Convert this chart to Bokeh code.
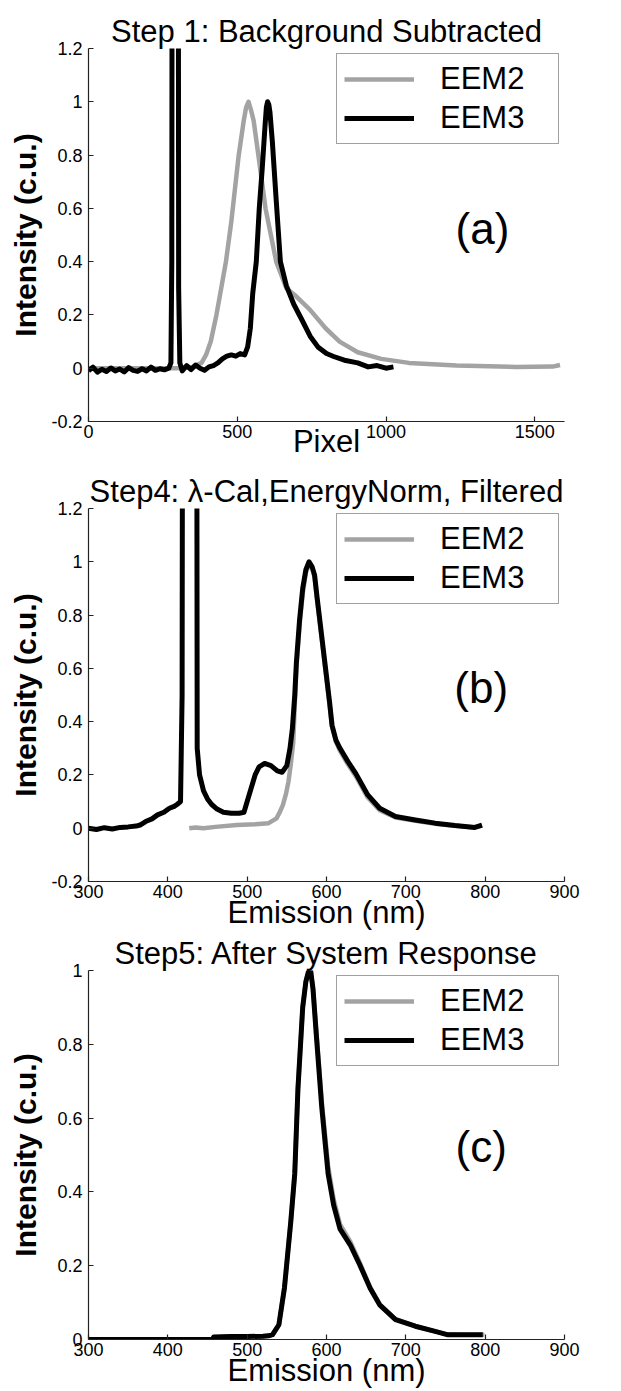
from bokeh.plotting import figure
from bokeh.layouts import column
from bokeh.models import (Legend, LegendItem, Label, FixedTicker,
                          CustomJSTickFormatter)
from bokeh.embed import file_html
from bokeh.resources import INLINE

FONT = "Liberation Sans"
GRAY = "#a3a3a3"
BLACK = "#000000"

# ---------------- (a) background subtracted, vs detector pixel ----------------
pix_eem2 = [0, 100, 200, 300, 350, 380, 395, 411, 430, 446,
            462, 480, 505, 522, 530, 538, 546, 555, 571, 595,
            631, 665, 698, 744, 797, 844, 905, 984, 1077, 1237,
            1438, 1560, 1585]
int_eem2_a = [0.0, 0.0, 0.0, 0.0, 0.005, 0.02, 0.05, 0.10, 0.20, 0.30,
              0.40, 0.55, 0.80, 0.93, 0.98, 1.00, 0.97, 0.93, 0.80, 0.60,
              0.40, 0.30, 0.27, 0.22, 0.15, 0.10, 0.06, 0.035, 0.02, 0.01,
              0.005, 0.006, 0.012]

pix_eem3 = [0, 15, 30, 45, 60, 75, 90, 105, 120, 135,
            150, 165, 180, 195, 210, 225, 240, 255, 270, 277,
            280, 282, 301, 303, 307, 315, 330, 345, 360, 375,
            390, 405, 420, 435, 450, 465, 480, 495, 510, 525,
            535, 544, 552, 564, 574, 584, 594, 598, 602, 606,
            610, 618, 631, 645, 665, 690, 718, 745, 771, 800,
            824, 860, 905, 940, 970, 1000, 1025]
int_eem3_a = [-0.010, 0.004, -0.015, -0.004, -0.012, 0.001, -0.010, -0.003, -0.014, 0.002,
              -0.008, -0.012, -0.002, -0.010, 0.004, -0.008, -0.002, -0.006, 0.000, 0.020,
              0.400, 3.0, 3.0, 0.300, 0.020, -0.010, 0.010, -0.005, 0.012, 0.000,
              -0.008, 0.005, 0.010, 0.020, 0.035, 0.045, 0.050, 0.045, 0.055, 0.050,
              0.080, 0.150, 0.280, 0.400, 0.600, 0.750, 0.920, 0.980, 1.000, 0.990,
              0.960, 0.850, 0.630, 0.400, 0.310, 0.240, 0.180, 0.120, 0.080, 0.055,
              0.044, 0.030, 0.020, 0.005, 0.010, 0.000, 0.005]

# ---------------- (b) wavelength calibrated, energy normalised, filtered -------
nm_eem2_b = [427, 435, 445, 460, 487, 510, 527, 537, 541, 545,
             549, 552, 555, 558, 562, 566, 570, 574, 578, 582,
             585, 588, 592, 596, 600, 604, 607, 612, 617, 627,
             637, 652, 667, 687, 712, 737, 762, 787, 796]
int_eem2_b = [0.000, 0.003, 0.000, 0.005, 0.012, 0.015, 0.019, 0.037, 0.060, 0.087,
              0.130, 0.174, 0.240, 0.320, 0.600, 0.760, 0.880, 0.960, 0.990, 0.975,
              0.940, 0.860, 0.760, 0.660, 0.560, 0.460, 0.380, 0.325, 0.290, 0.240,
              0.195, 0.115, 0.068, 0.040, 0.028, 0.017, 0.009, 0.003, 0.010]

nm_eem3_b = [300, 310, 320, 330, 340, 350, 360, 365, 372, 380,
             387, 395, 402, 408, 412, 416, 418, 419, 436, 437,
             440, 445, 450, 455, 462, 470, 480, 490, 496, 500,
             505, 510, 515, 522, 530, 538, 544, 550, 554, 557,
             560, 562, 566, 570, 574, 578, 582, 585, 588, 592,
             596, 600, 604, 607, 612, 617, 627, 637, 652, 667,
             687, 712, 737, 762, 787, 796]
int_eem3_b = [0.000, -0.005, 0.002, -0.003, 0.003, 0.005, 0.008, 0.012, 0.025, 0.035,
              0.050, 0.060, 0.075, 0.082, 0.090, 0.100, 0.500, 3.0, 3.0, 0.300,
              0.200, 0.140, 0.110, 0.090, 0.072, 0.060, 0.056, 0.056, 0.060, 0.100,
              0.150, 0.200, 0.230, 0.243, 0.235, 0.215, 0.210, 0.235, 0.300, 0.374,
              0.500, 0.620, 0.780, 0.900, 0.970, 1.000, 0.980, 0.950, 0.870, 0.770,
              0.670, 0.570, 0.470, 0.386, 0.330, 0.300, 0.250, 0.205, 0.125, 0.075,
              0.044, 0.031, 0.019, 0.010, 0.003, 0.012]

# ---------------- (c) after system response correction -------------------------
nm_eem2_c = [460, 480, 500, 520, 527, 532, 540, 547, 555, 560,
             564, 570, 574, 577, 580, 583, 587, 594, 602, 609,
             617, 630, 642, 655, 667, 687, 712, 737, 752, 775,
             799]
int_eem2_c = [0.006, 0.008, 0.008, 0.009, 0.010, 0.013, 0.040, 0.140, 0.320, 0.450,
              0.680, 0.900, 0.970, 0.995, 1.000, 0.950, 0.840, 0.645, 0.470, 0.380,
              0.312, 0.265, 0.208, 0.142, 0.095, 0.055, 0.036, 0.022, 0.014, 0.013,
              0.013]

nm_eem3_c = [300, 400, 456, 458, 480, 500, 520, 527, 532, 540,
             547, 555, 560, 564, 570, 574, 577, 580, 583, 587,
             594, 602, 609, 617, 630, 642, 655, 667, 687, 712,
             737, 752, 775, 797]
int_eem3_c = [0.000, 0.000, 0.000, 0.007, 0.008, 0.008, 0.009, 0.010, 0.013, 0.040,
              0.140, 0.320, 0.450, 0.680, 0.900, 0.970, 0.995, 1.000, 0.950, 0.830,
              0.630, 0.450, 0.364, 0.300, 0.256, 0.202, 0.139, 0.094, 0.054, 0.036,
              0.022, 0.013, 0.013, 0.013]

# ---------------- ticks and texts ----------------------------------------------
pixel_ticks = [0, 500, 1000, 1500]
nm_ticks = [300, 400, 500, 600, 700, 800, 900]
y_ticks_ab = [-0.2, 0.0, 0.2, 0.4, 0.6, 0.8, 1.0, 1.2]
y_ticks_c = [0.0, 0.2, 0.4, 0.6, 0.8, 1.0]
series_names = ["EEM2", "EEM3"]
titles = ["Step 1: Background Subtracted",
          "Step4: \u03bb-Cal,EnergyNorm, Filtered",
          "Step5: After System Response"]
tags = ["(a)", "(b)", "(c)"]
x_labels = ["Pixel", "Emission (nm)", "Emission (nm)"]
y_label = "Intensity (c.u.)"


def make_panel(title, height, top, bottom, x_range, y_range, x_ticks, y_ticks,
               x_label, xlabel_standoff, ylabel_standoff,
               x2, y2, x3, y3, tag, tag_x, tag_y):
    p = figure(width=621, height=height, x_range=x_range, y_range=y_range,
               min_border_left=88, min_border_right=57,
               min_border_top=top, min_border_bottom=bottom,
               output_backend="svg", toolbar_location=None, title=title)
    p.outline_line_color = None
    p.background_fill_color = "white"
    p.border_fill_color = "white"
    p.xgrid.visible = False
    p.ygrid.visible = False

    t = p.title
    t.text_font = FONT
    t.text_font_size = "31px"
    t.text_font_style = "normal"
    t.text_color = "black"
    t.align = "center"
    t.standoff = 0

    for ax in (p.xaxis[0], p.yaxis[0]):
        ax.axis_line_color = "#222222"
        ax.axis_line_width = 1.2
        ax.major_tick_line_color = "#222222"
        ax.major_tick_line_width = 1.2
        ax.major_tick_in = 5
        ax.major_tick_out = 0
        ax.minor_tick_line_color = None
        ax.major_label_text_font = FONT
        ax.major_label_text_font_size = "18px"
        ax.major_label_text_color = "black"
        ax.axis_label_text_font = FONT
        ax.axis_label_text_color = "black"

    xa = p.xaxis[0]
    xa.ticker = FixedTicker(ticks=x_ticks)
    xa.major_label_standoff = 3
    xa.axis_label = x_label
    xa.axis_label_text_font_size = "31px"
    xa.axis_label_text_font_style = "normal"
    xa.axis_label_standoff = xlabel_standoff

    ya = p.yaxis[0]
    ya.ticker = FixedTicker(ticks=y_ticks)
    ya.formatter = CustomJSTickFormatter(code="return String(Math.round(tick * 10) / 10);")
    ya.major_label_standoff = 6
    ya.axis_label = y_label
    ya.axis_label_text_font_size = "30px"
    ya.axis_label_text_font_style = "bold"
    ya.axis_label_standoff = ylabel_standoff

    r2 = p.line(x2, y2, line_color=GRAY, line_width=4.5, line_join="round")
    r3 = p.line(x3, y3, line_color=BLACK, line_width=5, line_join="round")

    legend = Legend(items=[LegendItem(label=series_names[0], renderers=[r2]),
                           LegendItem(label=series_names[1], renderers=[r3])],
                    location="top_right", margin=5, padding=7, spacing=3,
                    glyph_width=70, glyph_height=36, label_height=36,
                    label_width=111, label_standoff=26,
                    label_text_font=FONT, label_text_font_size="31px",
                    label_text_color="black",
                    border_line_color="#444444", border_line_width=1.5,
                    background_fill_color="white", background_fill_alpha=1.0)
    p.add_layout(legend)

    p.add_layout(Label(x=tag_x, y=tag_y, text=tag, text_font=FONT,
                       text_font_size="44px", text_align="center",
                       text_baseline="middle", text_color="black"))
    return p


pa = make_panel(titles[0], 466, 48, 45, (0, 1600), (-0.2, 1.2),
                pixel_ticks, y_ticks_ab, x_labels[0], -17, 6,
                pix_eem2, int_eem2_a, pix_eem3, int_eem3_a,
                tags[0], 1324, 0.524)
pb = make_panel(titles[1], 467, 42, 52, (300, 900), (-0.2, 1.2),
                nm_ticks, y_ticks_ab, x_labels[1], -6, 6,
                nm_eem2_b, int_eem2_b, nm_eem3_b, int_eem3_b,
                tags[1], 795, 0.527)
pc = make_panel(titles[2], 458, 35, 52, (300, 900), (0, 1),
                nm_ticks, y_ticks_c, x_labels[2], -6, 12,
                nm_eem2_c, int_eem2_c, nm_eem3_c, int_eem3_c,
                tags[2], 795, 0.523)

layout = column(pa, pb, pc, spacing=0)

with open("out.html", "w") as f:
    f.write(file_html(layout, INLINE))
